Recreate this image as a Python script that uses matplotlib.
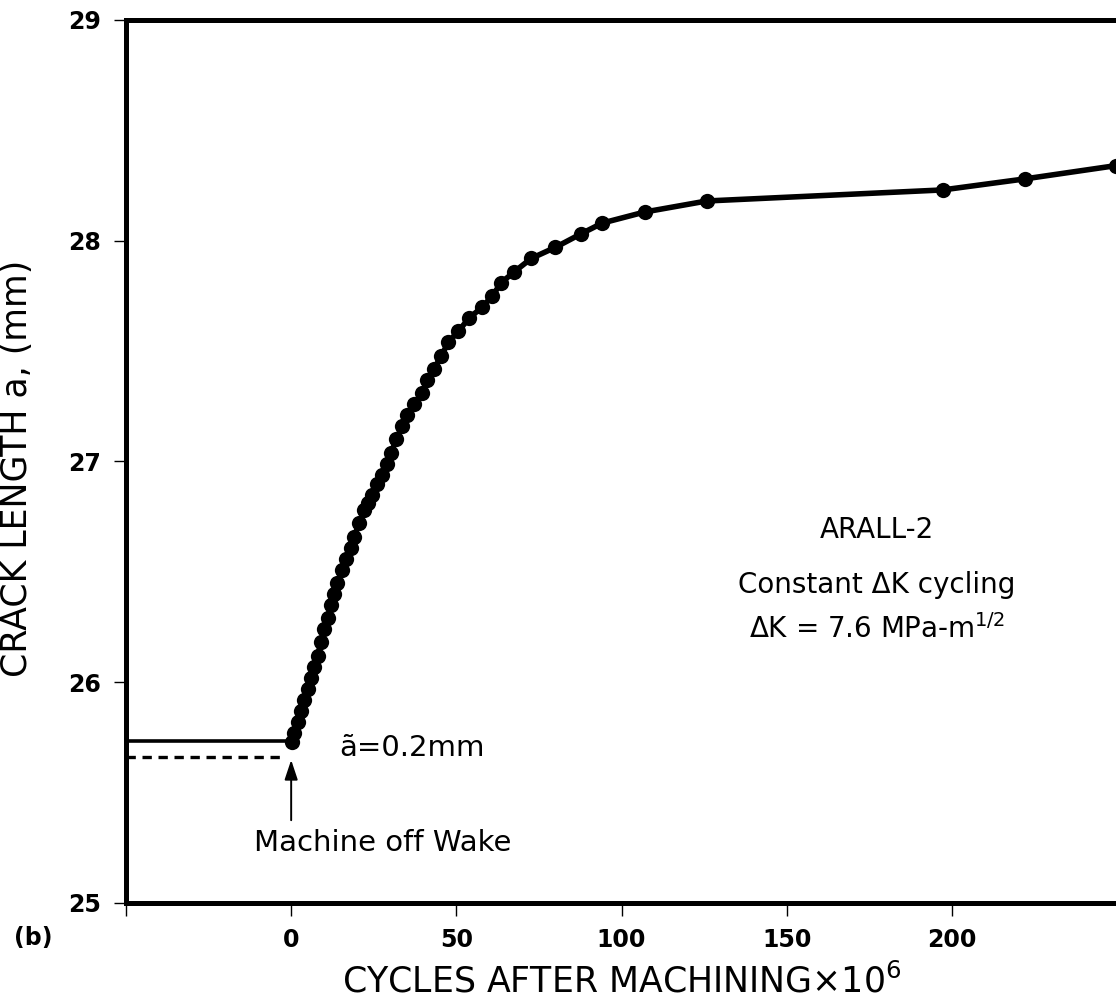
import matplotlib
matplotlib.use("Agg")
import matplotlib.pyplot as plt

# ---- data ----
cycles = [0.2, 1.0, 2.0, 3.0, 4.0, 5.0, 6.0, 7.0, 8.0, 9.0, 10.0, 11.0, 12.0,
          13.0, 13.9, 15.5, 16.7, 18.2, 19.1, 20.6, 22.1, 23.3, 24.5, 26.0,
          27.6, 28.9, 30.3, 31.8, 33.6, 35.2, 37.3, 39.7, 41.2, 43.3, 45.5,
          47.6, 50.6, 53.9, 57.9, 60.9, 63.6, 67.6, 72.7, 80.0, 87.6, 94.2,
          107.0, 125.8, 197.2, 222.1, 249.6]
crack = [25.73, 25.77, 25.82, 25.87, 25.92, 25.97, 26.02, 26.07, 26.12, 26.18,
         26.24, 26.29, 26.35, 26.40, 26.45, 26.51, 26.56, 26.61, 26.66, 26.72,
         26.78, 26.81, 26.85, 26.90, 26.94, 26.99, 27.04, 27.10, 27.16, 27.21,
         27.26, 27.31, 27.37, 27.42, 27.48, 27.54, 27.59, 27.65, 27.70, 27.75,
         27.81, 27.86, 27.92, 27.97, 28.03, 28.08, 28.13, 28.18, 28.23, 28.28,
         28.34]

pre_x = [-50, 0]
pre_solid = [25.735, 25.735]
pre_dotted_x = [-50, -1.5]
pre_dotted = [25.66, 25.66]

xticks = [-50, 0, 50, 100, 150, 200]
xticklabels = ["", "0", "50", "100", "150", "200"]
yticks = [25, 26, 27, 28, 29]
yticklabels = ["25", "26", "27", "28", "29"]

plt.rcParams['font.family'] = ['DejaVu Sans']
plt.rcParams['mathtext.default'] = 'regular'

fig = plt.figure(figsize=(11.16, 9.98), dpi=100)
ax = fig.add_axes([0.1129, 0.0952, 0.888, 0.8848])

ax.plot(cycles, crack, color='black', lw=4.0, marker='o', ms=11,
        markeredgewidth=0, solid_capstyle='round', clip_on=True, zorder=3)
ax.plot(pre_x, pre_solid, color='black', lw=2.6)
ax.plot(pre_dotted_x, pre_dotted, color='black', lw=2.4, linestyle=(0, (2.8, 2.0)))

ax.annotate('', xy=(0, 25.648), xytext=(0, 25.375),
            arrowprops=dict(arrowstyle='-|>,head_length=1.2,head_width=0.4',
                            color='black', lw=1.4, shrinkA=0, shrinkB=0))

ax.text(14.5, 25.70, 'ã=0.2mm', fontsize=21, va='center', ha='left')
ax.text(-11.2, 25.27, 'Machine off Wake', fontsize=21, va='center', ha='left')
ax.text(177.3, 26.69, 'ARALL-2', fontsize=20, va='center', ha='center')
ax.text(177.3, 26.44, 'Constant ΔK cycling', fontsize=20, va='center', ha='center')
ax.text(177.3, 26.24, 'ΔK = 7.6 MPa-m$^{1/2}$', fontsize=20, va='center', ha='center')

ax.set_xlim(-50, 250)
ax.set_ylim(25, 29)
ax.set_xticks(xticks)
ax.set_xticklabels(xticklabels, fontweight='bold', fontsize=17)
ax.set_yticks(yticks)
ax.set_yticklabels(yticklabels, fontweight='bold', fontsize=17)
ax.tick_params(direction='out', length=9, width=1.0, pad=9)

for s in ['left', 'bottom', 'top']:
    ax.spines[s].set_linewidth(3.6)
ax.spines['right'].set_visible(False)

ax.set_xlabel('CYCLES AFTER MACHINING×10$^{6}$', fontsize=25)
ax.xaxis.set_label_coords(0.5, -0.068)
ax.set_ylabel('CRACK LENGTH a, (mm)', fontsize=25)
ax.yaxis.set_label_coords(-0.093, 0.4926)

fig.text(0.0296, 0.060, '(b)', fontsize=17, fontweight='bold', va='center', ha='center')

fig.savefig('out.png', dpi=100)
